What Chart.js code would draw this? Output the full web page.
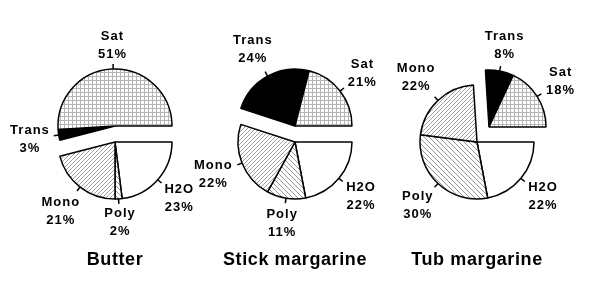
<!DOCTYPE html>
<html>
<head>
<meta charset="utf-8">
<script src="https://cdn.jsdelivr.net/npm/chart.js@4.4.1/dist/chart.umd.min.js"></script>
<style>
  html, body { margin: 0; padding: 0; background: #fff; }
  #wrap { position: relative; width: 599px; height: 291px; overflow: hidden; }
  #wrap canvas { position: absolute; top: 0; }
</style>
</head>
<body>
<div id="wrap">
  <canvas id="c-butter" width="230" height="291" style="left:0px"></canvas>
  <canvas id="c-stick"  width="230" height="291" style="left:180px"></canvas>
  <canvas id="c-tub"    width="230" height="291" style="left:362px"></canvas>
</div>
<script>
/* ================================================================
   DONNÉES — ordre des parts dans le sens horaire depuis 3 h
================================================================ */
const FAT_TYPES  = ['H2O', 'Poly', 'Mono', 'Trans', 'Sat'];
const BUTTER_PCT = [23, 2, 21, 3, 51];
const STICK_PCT  = [22, 11, 22, 24, 21];
const TUB_PCT    = [22, 30, 22, 8, 18];
const PRODUCTS   = ['Butter', 'Stick margarine', 'Tub margarine'];
const EXPLODED   = ['Trans', 'Sat'];   // parts détachées du reste


/* ================================================================
   STYLE
================================================================ */
const RADIUS     = 57;
const LABEL_FONT = 'bold 13px "Liberation Sans", Arial, sans-serif';
const TITLE_FONT = 'bold 18px "Liberation Sans", Arial, sans-serif';
const TITLE_Y    = 260;

/* décalage du groupe détaché, par graphique */
const EXPLODE_SHIFT = [
  { dx: 0,  dy: -16 },
  { dx: 0,  dy: -16 },
  { dx: 12, dy: -15 },
];

/* motifs de remplissage (tuiles répétées) */
function makeTile(size, draw) {
  const c = document.createElement('canvas');
  c.width = size; c.height = size;
  const g = c.getContext('2d');
  g.fillStyle = '#fff';
  g.fillRect(0, 0, size, size);
  draw(g, size);
  return document.createElement('canvas').getContext('2d').createPattern(c, 'repeat');
}

const PATTERNS = {
  Sat: makeTile(4, (g, n) => {          // quadrillage fin
    g.fillStyle = '#b4b4b4';
    g.fillRect(0, 0, n, 1);
    g.fillRect(0, 0, 1, n);
  }),
  Mono: makeTile(4, (g, n) => {         // hachures /
    g.fillStyle = '#a0a0a0';
    for (let i = 0; i < n; i++) g.fillRect(i, n - 1 - i, 1, 1);
  }),
  Poly: makeTile(5, (g, n) => {         // hachures \
    g.fillStyle = '#969696';
    for (let i = 0; i < n; i++) g.fillRect(i, i, 1, 1);
  }),
  Trans: '#000',
  H2O: '#fff',
};


/* ================================================================
   PLUGINS
================================================================ */

/* Déplace les parts détachées d'un même vecteur */
const explodePlugin = {
  id: 'explode',
  defaults: { dx: 0, dy: 0 },
  afterDatasetUpdate(chart, args, opts) {
    const labels = chart.data.labels;
    args.meta.data.forEach((arc, i) => {
      if (EXPLODED.includes(labels[i])) {
        arc.x += opts.dx;
        arc.y += opts.dy;
      }
    });
  },
};

/* Étiquettes (nom + %), petits traits et titre */
const labelPlugin = {
  id: 'sliceLabels',
  defaults: { title: '' },
  afterDatasetsDraw(chart, args, opts) {
    const ctx    = chart.ctx;
    const labels = chart.data.labels;
    const values = chart.data.datasets[0].data;
    const meta   = chart.getDatasetMeta(0);

    ctx.save();
    ctx.fillStyle   = '#000';
    ctx.strokeStyle = '#000';
    ctx.lineWidth   = 1.5;
    ctx.font        = LABEL_FONT;
    ctx.letterSpacing = '1px';
    ctx.textAlign    = 'center';
    ctx.textBaseline = 'middle';

    meta.data.forEach((arc, i) => {
      const mid = (arc.startAngle + arc.endAngle) / 2;
      const cos = Math.cos(mid), sin = Math.sin(mid);
      const r   = arc.outerRadius;

      // trait radial
      ctx.beginPath();
      ctx.moveTo(arc.x + cos * r, arc.y + sin * r);
      ctx.lineTo(arc.x + cos * (r + 5), arc.y + sin * (r + 5));
      ctx.stroke();

      // texte sur deux lignes
      const l1 = labels[i];
      const l2 = values[i] + '%';
      const w  = Math.max(ctx.measureText(l1).width, ctx.measureText(l2).width);
      const h  = 32;
      const d  = r + 7 + Math.abs(cos) * w / 2 + Math.abs(sin) * h / 2;
      const tx = arc.x + cos * d;
      const ty = arc.y + sin * d;
      ctx.fillText(l1, tx, ty - 9);
      ctx.fillText(l2, tx, ty + 9);
    });

    // titre sous le graphique
    const ca = chart.chartArea;
    ctx.font = TITLE_FONT;
    ctx.letterSpacing = '0.6px';
    ctx.fillText(opts.title, (ca.left + ca.right) / 2, TITLE_Y);
    ctx.restore();
  },
};


/* ================================================================
   CONSTRUCTION DES GRAPHIQUES
================================================================ */
function makePie(canvasId, values, index) {
  return new Chart(document.getElementById(canvasId), {
    type: 'pie',
    data: {
      labels: FAT_TYPES,
      datasets: [{
        data:            values,
        backgroundColor: FAT_TYPES.map(t => PATTERNS[t]),
        borderColor:     '#000',
        borderWidth:     1.5,
        radius:          RADIUS,
        hoverOffset:     0,
      }],
    },
    options: {
      responsive: false,
      animation:  false,
      events:     [],
      rotation:   90,
      layout:     { padding: { top: 0, bottom: 7, left: 0, right: 0 } },
      plugins: {
        legend:  { display: false },
        tooltip: { enabled: false },
        explode: EXPLODE_SHIFT[index],
        sliceLabels: { title: PRODUCTS[index] },
      },
    },
    plugins: [explodePlugin, labelPlugin],
  });
}

makePie('c-butter', BUTTER_PCT, 0);
makePie('c-stick',  STICK_PCT,  1);
makePie('c-tub',    TUB_PCT,    2);
</script>
</body>
</html>
